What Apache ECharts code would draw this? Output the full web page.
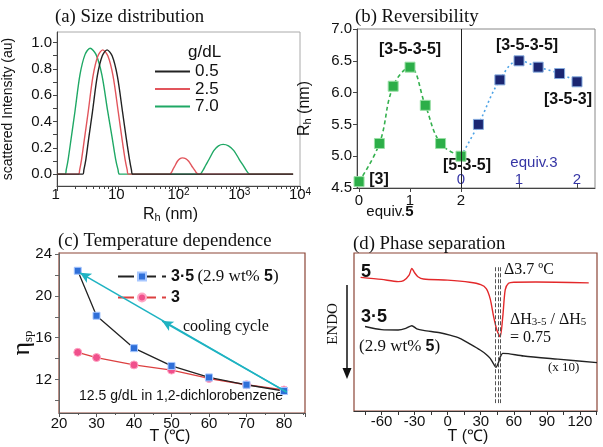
<!DOCTYPE html>
<html>
<head>
<meta charset="utf-8">
<script src="https://cdn.jsdelivr.net/npm/echarts@6/dist/echarts.min.js"></script>
<style>
html, body { margin: 0; padding: 0; background: #fff; }
#main { width: 603px; height: 447px; }
</style>
</head>
<body>
<div id="main"></div>
<script>
// (a) size distribution: [Rh (nm), scattered intensity]
const dist05 = [[1,0],[2.65,0],[2.77,0.033],[2.99,0.113],[3.33,0.274],[3.83,0.472],[4.61,0.746],[5.55,0.897],[6.67,0.944],[8.11,0.897],[9.84,0.746],[12.0,0.472],[13.8,0.274],[15.6,0.113],[16.8,0.033],[17.7,0],[7700,0]];
const dist25 = [[1,0],[2.25,0],[2.36,0.033],[2.54,0.113],[2.84,0.274],[3.26,0.472],[3.92,0.746],[4.71,0.897],[5.66,0.944],[6.89,0.897],[8.36,0.746],[10.2,0.472],[11.7,0.274],[13.2,0.113],[14.3,0.033],[15.0,0],
  [72,0],[77,0.015],[81,0.036],[87,0.062],[96,0.098],[106,0.118],[116,0.124],[131,0.118],[147,0.098],[165,0.062],[181,0.036],[194,0.015],[210,0],[7700,0]];
const dist70 = [[1,0],[1.36,0],[1.42,0.034],[1.53,0.115],[1.72,0.28],[1.98,0.48],[2.39,0.756],[2.90,0.91],[3.5,0.957],[4.38,0.91],[5.47,0.756],[6.82,0.48],[8.07,0.28],[9.22,0.115],[10.1,0.034],[10.7,0],
  [224,0],[251,0.027],[279,0.066],[319,0.113],[381,0.179],[455,0.215],[543,0.226],[665,0.215],[815,0.179],[998,0.113],[1161,0.066],[1312,0.027],[1496,0],[7700,0]];
const intensityTicks = [0, 0.2, 0.4, 0.6, 0.8, 1.0];
const intensityMinor = [0, 0.1, 0.2, 0.3, 0.4, 0.5, 0.6, 0.7, 0.8, 0.9, 1.0];

// (b) reversibility
const equiv5 = [0, 0.4, 0.67, 1.0, 1.3, 1.6, 2.0];
const rhGreen = [4.6, 5.2, 6.1, 6.4, 5.8, 5.2, 5.0];
const equiv3 = [0, 0.3, 0.67, 1.0, 1.33, 1.7, 2.0];
const rhBlue = [5.0, 5.5, 6.2, 6.5, 6.4, 6.3, 6.17];
const equivTicks = [0, 1, 2];

// (c) temperature dependence
const tempC = [25, 30, 40, 50, 60, 70, 80];
const eta35 = [22.4, 18.1, 15.0, 13.3, 12.2, 11.5, 10.9];
const eta3 = [14.6, 14.1, 13.4, 12.9, 12.1, 11.5, 11.0];
const coolStart = [80.7, 10.8];
const coolEnd = [25.6, 22.2];
const coolMid = [47.5, 17.6];
const etaTicks = [12, 16, 20, 24];
const etaMinor = [10, 12, 14, 16, 18, 20, 22, 24];

// (d) DSC traces: [T (C), heat flow, arbitrary]
const dsc5 = [[-79,84.6],[-60,83.3],[-45,81.9],[-40,82.5],[-35,86],[-32.5,90.3],[-30,87.5],[-27,85],[-22,83.5],[0,82.8],[20,81.5],[30,80],[35,77.5],[38.6,71],[41.6,60],[44.6,51.3],[47.6,46.9],[50,59.7],[52.2,76.6],[55.2,80.8],[60,81.5],[80,81.6],[128,81.1]];
const dsc35 = [[-75,53.5],[-60,51.5],[-45,51.3],[-38,52.3],[-32.5,54],[-28,52],[-22,51],[-7,49.5],[2,48],[11,46],[20,42.5],[29.5,38.6],[35,35.8],[38.6,33.3],[41.5,30],[43.8,27.7],[46,30.5],[47.6,34],[50,36.5],[55,36.3],[69,34.8],[100,32.8],[135.5,30.6]];
const meltLines = [43.3, 45.6, 47.9];
const tempTicks = [-60, -30, 0, 30, 60, 90, 120];
const tempMinor = [-75, -60, -45, -30, -15, 0, 15, 30, 45, 60, 75, 90, 105, 120, 135];

const SANS = '"Liberation Sans", Arial, sans-serif';
const SERIF = '"Liberation Serif", "Times New Roman", serif';
const INK = '#111';
const BROWN = '#8b4536';

// log-spaced minor ticks for the Rh axis (in decades)
const minorLog = [];
for (let d = 0; d < 4; d++) {
  for (let k = 2; k <= 9; k++) minorLog.push(d + Math.log10(k));
}

const lab = (size, extra) => Object.assign({ fontFamily: SANS, fontSize: size, color: INK }, extra || {});

function txt(x, y, text, font, extra) {
  return Object.assign({
    type: 'text', x: x, y: y, silent: true,
    style: Object.assign({
      text: text, font: font, fill: INK,
      align: 'left', textAlign: 'left',
      verticalAlign: 'middle', textVerticalAlign: 'middle'
    }, (extra && extra.style) || {})
  }, extra && extra.rotation ? { rotation: extra.rotation } : {});
}

const titleStyle = { fontFamily: SERIF, fontSize: 18.8, fontWeight: 'normal', color: INK };

const chart = echarts.init(document.getElementById('main'));

chart.setOption({
  animation: false,
  title: [
    { text: '(a) Size distribution', left: 55, top: 8, padding: 0, textStyle: titleStyle },
    { text: '(b) Reversibility', left: 355, top: 8, padding: 0, textStyle: titleStyle },
    { text: '(c) Temperature dependence', left: 58, top: 232, padding: 0, textStyle: titleStyle },
    { text: '(d) Phase separation', left: 353, top: 235, padding: 0, textStyle: titleStyle }
  ],
  legend: [
    {
      data: ['0.5', '2.5', '7.0'], orient: 'vertical', left: 150, top: 58,
      icon: 'rect', itemWidth: 35, itemHeight: 2, itemGap: 0.5, selectedMode: false,
      textStyle: lab(17, { lineHeight: 17 })
    },
    {
      data: ['3·5 (2.9 wt% 5)', '3'], orient: 'vertical', left: 112, top: 261,
      itemWidth: 48, itemHeight: 10, itemGap: 0, selectedMode: false,
      lineStyle: { type: [16, 6] },
      formatter: name => name === '3' ? '{b|3}' : '{b|3·5} {s|(2.9 wt% }{b|5}{s|)}',
      textStyle: {
        lineHeight: 21,
        rich: {
          b: { fontFamily: SANS, fontSize: 16, fontWeight: 'bold', color: INK },
          s: { fontFamily: SERIF, fontSize: 17, color: INK }
        }
      }
    }
  ],
  grid: [
    { left: 57, top: 32, width: 243, height: 154, show: true, borderColor: '#aaa', borderWidth: 1 },
    { left: 357, top: 29, width: 238, height: 159, show: true, borderColor: '#888', borderWidth: 1 },
    { left: 59, top: 253, width: 246, height: 160, show: true, borderColor: BROWN, borderWidth: 1.2 },
    { left: 354, top: 253, width: 243, height: 158, show: true, borderColor: BROWN, borderWidth: 1.2 }
  ],
  xAxis: [
    {
      type: 'log', gridIndex: 0, logBase: 10, min: 1, max: 10000, position: 'bottom',
      axisLine: { onZero: false, lineStyle: { color: '#444' } },
      axisTick: { length: 5, lineStyle: { color: '#444' } },
      splitLine: { show: false },
      axisLabel: {
        margin: 1,
        formatter: v => {
          const p = Math.round(Math.log10(v));
          if (p === 0) return '{b|1}{sup| }';
          if (p === 1) return '{b|10}{sup| }';
          return '{b|10}{sup|' + p + '}';
        },
        rich: {
          b: lab(15, { verticalAlign: 'bottom', lineHeight: 15 }),
          sup: lab(10, { verticalAlign: 'top', lineHeight: 10, padding: [0, 0, 12, 0] })
        }
      }
    },
    {
      type: 'value', gridIndex: 0, min: 0, max: 4, position: 'bottom',
      axisLine: { show: false, onZero: false },
      axisLabel: { show: false }, splitLine: { show: false },
      axisTick: { show: true, length: 3, customValues: minorLog, lineStyle: { color: '#444' } }
    },
    {
      type: 'value', gridIndex: 1, min: -0.04, max: 4.63, position: 'bottom',
      axisLine: { onZero: false, lineStyle: { color: '#444' } },
      axisTick: { length: 4, customValues: equivTicks, lineStyle: { color: '#444' } },
      axisLabel: lab(15, { customValues: equivTicks, margin: 5 }),
      splitLine: { show: false }
    },
    {
      type: 'value', gridIndex: 1, min: -1.793, max: 2.31, position: 'bottom',
      axisLine: { show: false, onZero: false },
      axisTick: { show: true, inside: true, length: 4, customValues: [1, 2], lineStyle: { color: '#444' } },
      axisLabel: lab(15, { customValues: equivTicks, inside: true, margin: 1, color: '#3535a5' }),
      splitLine: { show: false }
    },
    {
      type: 'value', gridIndex: 2, min: 20, max: 85.6, interval: 10, position: 'bottom',
      axisLine: { onZero: false, lineStyle: { color: '#555' } },
      axisTick: { length: 4, lineStyle: { color: '#555' } },
      minorTick: { show: true, splitNumber: 2, length: 2, lineStyle: { color: '#555' } },
      axisLabel: lab(15, { margin: 3 }),
      splitLine: { show: false }
    },
    {
      type: 'value', gridIndex: 3, min: -85, max: 135.5, position: 'bottom',
      axisLine: { onZero: false, lineStyle: { color: '#333' } },
      axisTick: { length: 4, customValues: tempMinor, lineStyle: { color: '#333' } },
      axisLabel: lab(15, { customValues: tempTicks, margin: 3 }),
      splitLine: { show: false }
    }
  ],
  yAxis: [
    {
      type: 'value', gridIndex: 0, min: -0.09, max: 1.08,
      axisLine: { show: true, onZero: false, lineStyle: { color: '#444' } },
      axisTick: { show: true, length: 4, customValues: intensityMinor, lineStyle: { color: '#444' } },
      axisLabel: lab(15, { customValues: intensityTicks, formatter: v => v.toFixed(1), margin: 5 }),
      splitLine: { show: false },
      name: 'scattered Intensity (au)', nameLocation: 'middle', nameGap: 42,
      nameTextStyle: lab(14)
    },
    {
      type: 'value', gridIndex: 1, min: 4.5, max: 7.0, interval: 0.5,
      axisLine: { show: true, onZero: false, lineStyle: { color: '#444' } },
      axisTick: { show: true, length: 4, lineStyle: { color: '#444' } },
      axisLabel: lab(15, { formatter: v => v.toFixed(1), margin: 5 }),
      splitLine: { show: false },
      name: '{r|R}{s|h}{r| (nm)}', nameLocation: 'middle', nameGap: 44,
      nameTextStyle: { rich: { r: lab(16), s: lab(11, { verticalAlign: 'bottom' }) } }
    },
    {
      type: 'value', gridIndex: 2, min: 8.8, max: 24.1,
      axisLine: { show: true, onZero: false, lineStyle: { color: '#666' } },
      axisTick: { show: true, length: 4, customValues: etaMinor, lineStyle: { color: '#666' } },
      axisLabel: lab(15, { customValues: etaTicks, margin: 7 }),
      splitLine: { show: false }
    },
    { type: 'value', gridIndex: 3, min: 0, max: 100, show: false }
  ],
  series: [
    // (a)
    { name: '7.0', type: 'line', xAxisIndex: 0, yAxisIndex: 0, data: dist70, symbol: 'none', smooth: 0.3,
      lineStyle: { color: '#1fa865', width: 1.4 }, itemStyle: { color: '#1fa865' } },
    { name: '2.5', type: 'line', xAxisIndex: 0, yAxisIndex: 0, data: dist25, symbol: 'none', smooth: 0.3,
      lineStyle: { color: '#e2555c', width: 1.4 }, itemStyle: { color: '#e2555c' } },
    { name: '0.5', type: 'line', xAxisIndex: 0, yAxisIndex: 0, data: dist05, symbol: 'none', smooth: 0.3,
      lineStyle: { color: '#222', width: 1.4 }, itemStyle: { color: '#222' } },
    // (b)
    {
      name: 'equiv5', type: 'line', xAxisIndex: 2, yAxisIndex: 1,
      data: equiv5.map((x, i) => [x, rhGreen[i]]),
      smooth: 0.4, symbol: 'rect', symbolSize: 10, z: 4,
      lineStyle: { color: '#34b04e', width: 1.6, type: [4, 3] },
      itemStyle: { color: '#2cae48', borderColor: '#9be0a6', borderWidth: 1 },
      markLine: {
        silent: true, symbol: 'none', label: { show: false },
        lineStyle: { color: '#222', width: 1, type: 'solid' },
        data: [{ xAxis: 2 }]
      }
    },
    {
      name: 'equiv3', type: 'line', xAxisIndex: 3, yAxisIndex: 1,
      data: equiv3.map((x, i) => i === 0 ? { value: [x, rhBlue[i]], symbol: 'none' } : [x, rhBlue[i]]),
      smooth: 0.4, symbol: 'rect', symbolSize: 10, z: 3,
      lineStyle: { color: '#4ea3e6', width: 1.6, type: [2, 3] },
      itemStyle: { color: '#1b2672', borderColor: '#86acdf', borderWidth: 1 }
    },
    // (c)
    {
      name: '3', type: 'line', xAxisIndex: 4, yAxisIndex: 2,
      data: tempC.map((t, i) => [t, eta3[i]]),
      symbol: 'circle', symbolSize: 8,
      lineStyle: { color: '#dc4040', width: 1.3 },
      itemStyle: { color: '#f0508c', borderColor: '#ffa6c4', borderWidth: 1 }
    },
    {
      name: '3·5 (2.9 wt% 5)', type: 'line', xAxisIndex: 4, yAxisIndex: 2,
      data: tempC.map((t, i) => [t, eta35[i]]),
      symbol: 'rect', symbolSize: 7,
      lineStyle: { color: '#222', width: 1.3 },
      itemStyle: { color: '#2f6fd8', borderColor: '#a8c8ff', borderWidth: 1 },
      markLine: {
        silent: true, symbol: ['none', 'arrow'], symbolSize: [8, 11], label: { show: false },
        lineStyle: { color: '#1fb3c2', width: 1.6, type: 'solid' },
        data: [
          [{ coord: coolStart }, { coord: coolEnd }],
          [{ coord: coolStart }, { coord: coolMid }]
        ]
      }
    },
    // (d)
    {
      name: 'dsc5', type: 'line', xAxisIndex: 5, yAxisIndex: 3, data: dsc5,
      symbol: 'none', smooth: 0.25, lineStyle: { color: '#e3282a', width: 1.4 }
    },
    {
      name: 'dsc35', type: 'line', xAxisIndex: 5, yAxisIndex: 3, data: dsc35,
      symbol: 'none', smooth: 0.25, lineStyle: { color: '#222', width: 1.4 },
      markLine: {
        silent: true, symbol: 'none', label: { show: false },
        lineStyle: { color: '#555', width: 1, type: [4, 2] },
        data: meltLines.map(t => [{ coord: [t, 91] }, { coord: [t, 5] }])
      }
    }
  ],
  graphic: [
    // (a)
    txt(188, 52, 'g/dL', '17px ' + SANS),
    txt(143, 215, '{r|R}{s|h}{r| (nm)}', '16px ' + SANS, { style: { rich: {
      r: { fontFamily: SANS, fontSize: 16, fill: INK },
      s: { fontFamily: SANS, fontSize: 11, fill: INK, verticalAlign: 'bottom' } } } }),
    // (b)
    txt(410, 50, '[3-5-3-5]', 'bold 16px ' + SANS, { style: { align: 'center', textAlign: 'center' } }),
    txt(527, 46, '[3-5-3-5]', 'bold 16px ' + SANS, { style: { align: 'center', textAlign: 'center' } }),
    txt(568, 100, '[3-5-3]', 'bold 16px ' + SANS, { style: { align: 'center', textAlign: 'center' } }),
    txt(467, 166, '[5-3-5]', 'bold 16px ' + SANS, { style: { align: 'center', textAlign: 'center' } }),
    txt(379, 180, '[3]', 'bold 16px ' + SANS, { style: { align: 'center', textAlign: 'center' } }),
    txt(534, 163, 'equiv.3', '15px ' + SANS, { style: { align: 'center', textAlign: 'center', fill: '#3535a5' } }),
    txt(390, 212, '{n|equiv.}{b|5}', '15px ' + SANS, { style: { align: 'center', textAlign: 'center', rich: {
      n: { fontFamily: SANS, fontSize: 15, fill: INK },
      b: { fontFamily: SANS, fontSize: 15, fontWeight: 'bold', fill: INK } } } }),
    // (c)
    txt(183, 327, 'cooling cycle', '16px ' + SERIF),
    txt(181, 396, '12.5 g/dL in 1,2-dichlorobenzene', '14px ' + SANS, { style: { align: 'center', textAlign: 'center' } }),
    txt(22, 343, '{e|η}{s|sp}', '24px ' + SERIF, { rotation: Math.PI / 2, style: { align: 'center', textAlign: 'center', rich: {
      e: { fontFamily: SERIF, fontSize: 26, fill: INK },
      s: { fontFamily: SERIF, fontSize: 13, fill: INK, verticalAlign: 'bottom' } } } }),
    txt(170, 437, 'T (℃)', '16px ' + SANS, { style: { align: 'center', textAlign: 'center' } }),
    // (d)
    txt(468, 437, 'T (℃)', '16px ' + SANS, { style: { align: 'center', textAlign: 'center' } }),
    txt(333, 324, 'ENDO', '15px ' + SERIF, { rotation: Math.PI / 2, style: { align: 'center', textAlign: 'center' } }),
    { type: 'line', silent: true, shape: { x1: 347, y1: 285, x2: 347, y2: 370 }, style: { stroke: INK, lineWidth: 1.5 } },
    { type: 'polygon', silent: true, shape: { points: [[342.5, 368], [351.5, 368], [347, 379]] }, style: { fill: INK } },
    txt(361, 272, '5', 'bold 18px ' + SANS),
    txt(361, 317, '3·5', 'bold 18px ' + SANS),
    txt(359, 347, '{s|(2.9 wt% }{b|5}{s|)}', '17px ' + SERIF, { style: { rich: {
      s: { fontFamily: SERIF, fontSize: 17, fill: INK },
      b: { fontFamily: SANS, fontSize: 16, fontWeight: 'bold', fill: INK } } } }),
    txt(504, 270, 'Δ3.7 ºC', '16px ' + SERIF),
    txt(510, 320, '{s|ΔH}{u|3-5}{s| / ΔH}{u|5}', '16px ' + SERIF, { style: { rich: {
      s: { fontFamily: SERIF, fontSize: 16, fill: INK },
      u: { fontFamily: SERIF, fontSize: 11, fill: INK, verticalAlign: 'bottom' } } } }),
    txt(510, 338, '= 0.75', '16px ' + SERIF),
    txt(548, 368, '(x 10)', '13px ' + SERIF)
  ]
});
</script>
</body>
</html>
